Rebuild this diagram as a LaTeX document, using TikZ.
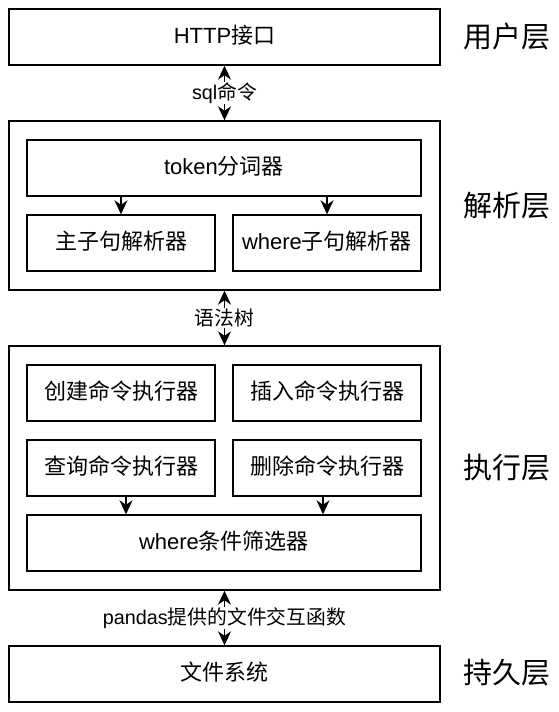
\documentclass[tikz,border=0pt]{standalone}
\usepackage{fontspec}
\setmainfont{Liberation Sans}
\newfontfamily\cjk{Noto Sans CJK SC}
\usetikzlibrary{arrows.meta}
\newcommand\mix[2]{#1{\cjk #2}}
\tikzset{
  tip/.tip={Stealth[length=14pt, width=13pt, inset=4.5pt]},
  box/.style={draw=black, line width=1.4pt, fill=white, inner sep=0pt, font=\fontsize{22}{26}\selectfont, text height=16pt, text depth=4pt},
  layer/.style={draw=black, line width=1.4pt, inner sep=0pt, minimum width=431pt},
  arr/.style={line width=1.4pt, -tip},
  dbl/.style={line width=1.4pt, tip-tip},
  lbl/.style={fill=white, inner sep=1pt, font=\fontsize{19.8}{22}\selectfont},
  side/.style={font=\cjk\fontsize{29}{32}\selectfont, inner sep=0pt}
}
\begin{document}
\begin{tikzpicture}[x=1pt, y=-1pt]
\useasboundingbox (0,0) rectangle (559,712);
\fill[white] (0,0) rectangle (559,712);
% layers
\node[box, minimum width=431pt, minimum height=56pt] (user) at (224.5,37) {\mix{HTTP}{接口}};
\node[layer, minimum height=169pt] (parse) at (224.5,205.5) {};
\node[layer, minimum height=244pt] (exec) at (224.5,468) {};
\node[box, minimum width=431pt, minimum height=56pt] (store) at (224.5,674) {{\cjk 文件系统}};
% parse layer
\node[box, minimum width=394pt, minimum height=56pt] (token) at (224,168) {\mix{token}{分词器}};
\node[box, minimum width=188pt, minimum height=56pt] (mainc) at (121,243) {{\cjk 主子句解析器}};
\node[box, minimum width=188pt, minimum height=56pt] (wherec) at (327,243) {\mix{where}{子句解析器}};
% exec layer
\node[box, minimum width=188pt, minimum height=56pt] (create) at (121,393) {{\cjk 创建命令执行器}};
\node[box, minimum width=188pt, minimum height=56pt] (insert) at (327,393) {{\cjk 插入命令执行器}};
\node[box, minimum width=188pt, minimum height=56pt] (query) at (121,468) {{\cjk 查询命令执行器}};
\node[box, minimum width=188pt, minimum height=56pt] (delete) at (327,468) {{\cjk 删除命令执行器}};
\node[box, minimum width=394pt, minimum height=56pt] (filter) at (224,543) {\mix{where}{条件筛选器}};
% inner arrows
\draw[arr] (mainc.north |- token.south) -- (mainc.north);
\draw[arr] (wherec.north |- token.south) -- (wherec.north);
\draw[arr] ([xshift=5pt]query.south) -- ([xshift=5pt]query.south |- filter.north);
\draw[arr] ([xshift=-4pt]delete.south) -- ([xshift=-4pt]delete.south |- filter.north);
% layer arrows
\draw[dbl] (user.south) -- node[lbl] {\mix{sql}{命令}} (parse.north);
\draw[dbl] (parse.south) -- node[lbl] {{\cjk 语法树}} (exec.north);
\draw[dbl] (exec.south) -- node[lbl] {\mix{pandas}{提供的文件交互函数}} (store.north);
% side labels
\node[side] (l1) at (506.5,37) {用户层};
\node[side] (l2) at (506.5,205.5) {解析层};
\node[side] (l3) at (506.5,468) {执行层};
\node[side] (l4) at (506.5,673) {持久层};
\end{tikzpicture}
\end{document}
